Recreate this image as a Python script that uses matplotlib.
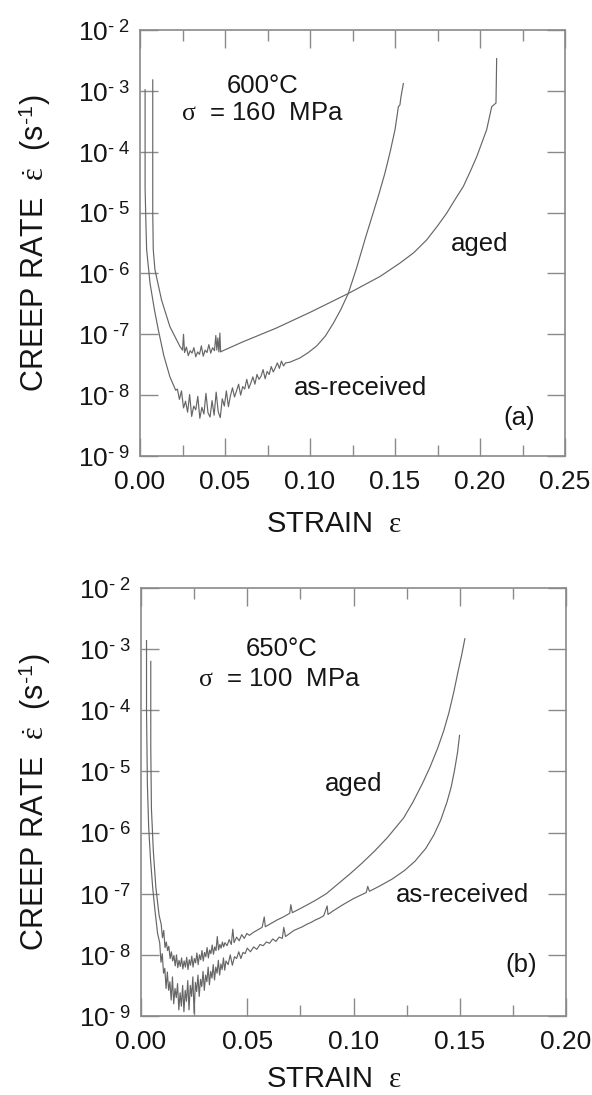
import numpy as np
import matplotlib
matplotlib.use("Agg")
import matplotlib.pyplot as plt
from matplotlib.ticker import MultipleLocator, NullLocator, FuncFormatter, LogLocator

plt.rcParams['font.family'] = ['Liberation Sans', 'DejaVu Sans']
plt.rcParams['mathtext.fontset'] = 'custom'
plt.rcParams['mathtext.rm'] = 'Liberation Sans'
plt.rcParams['mathtext.it'] = 'Liberation Serif'
plt.rcParams['mathtext.bf'] = 'Liberation Sans:bold'

# each curve: (strain, log10 creep rate)

# ---------------- panel (a): 600 C, 160 MPa ----------------
ar_a = [(0.0030, -2.98), (0.0030, -4.60), (0.0035, -5.20), (0.0039, -5.61), (0.0059, -6.16),
        (0.0085, -6.60), (0.0108, -6.93), (0.0140, -7.35), (0.0176, -7.70), (0.0210, -7.92),
        (0.0220, -7.90), (0.0232, -8.07), (0.0244, -7.93), (0.0256, -8.21), (0.0268, -8.10),
        (0.0280, -8.28), (0.0292, -7.99), (0.0304, -8.35), (0.0316, -8.18), (0.0328, -8.24),
        (0.0340, -8.02), (0.0352, -8.38), (0.0364, -8.20), (0.0376, -8.31), (0.0388, -7.97),
        (0.0400, -8.29), (0.0412, -8.36), (0.0424, -8.09), (0.0436, -8.33), (0.0448, -7.95),
        (0.0460, -8.27), (0.0472, -8.37), (0.0484, -8.06), (0.0496, -8.18), (0.0508, -7.93),
        (0.0520, -8.19), (0.0532, -8.01), (0.0544, -7.88), (0.0556, -8.03), (0.0568, -7.93),
        (0.0580, -7.82), (0.0592, -8.00), (0.0604, -7.86), (0.0616, -7.90), (0.0628, -7.74),
        (0.0640, -7.89), (0.0652, -7.80), (0.0664, -7.70), (0.0676, -7.82), (0.0688, -7.66),
        (0.0700, -7.74), (0.0712, -7.69), (0.0724, -7.58), (0.0736, -7.73), (0.0748, -7.61),
        (0.0760, -7.66), (0.0772, -7.53), (0.0784, -7.62), (0.0796, -7.55), (0.0808, -7.47),
        (0.0820, -7.56), (0.0832, -7.44), (0.0844, -7.52), (0.0856, -7.47),
        (0.0880, -7.46), (0.0940, -7.39), (0.0990, -7.30), (0.1040, -7.19), (0.1090, -7.03),
        (0.1137, -6.82), (0.1180, -6.60), (0.1225, -6.33), (0.1273, -5.92), (0.1330, -5.38),
        (0.1370, -5.02), (0.1405, -4.70), (0.1440, -4.36), (0.1470, -4.02), (0.1500, -3.64),
        (0.1520, -3.26), (0.1529, -3.23), (0.1535, -3.10), (0.1549, -2.88)]

ag_a = [(0.0075, -2.82), (0.0075, -5.00), (0.0078, -5.61), (0.0088, -5.94), (0.0127, -6.44),
        (0.0176, -6.875), (0.0235, -7.20),
        (0.0250, -7.26), (0.0256, -7.00), (0.0262, -7.30), (0.0273, -7.21), (0.0284, -7.35),
        (0.0295, -7.27), (0.0306, -7.31), (0.0317, -7.22), (0.0328, -7.37), (0.0339, -7.29),
        (0.0350, -7.33), (0.0361, -7.19), (0.0372, -7.36), (0.0383, -7.26), (0.0394, -7.30),
        (0.0405, -7.17), (0.0416, -7.31), (0.0427, -7.22), (0.0438, -7.27), (0.0446, -7.02),
        (0.0452, -7.26), (0.0458, -7.06), (0.0464, -7.29), (0.0470, -6.98), (0.0474, -7.29),
        (0.0480, -7.28), (0.0600, -7.13), (0.0800, -6.90), (0.1000, -6.64), (0.1225, -6.33),
        (0.1412, -6.05), (0.1529, -5.83), (0.1610, -5.66), (0.1686, -5.45), (0.1750, -5.22),
        (0.1804, -5.01), (0.1850, -4.80), (0.1902, -4.57), (0.1945, -4.31), (0.1981, -4.08),
        (0.2039, -3.64), (0.2069, -3.26), (0.2094, -3.20), (0.2098, -2.47)]

# ---------------- panel (b): 650 C, 100 MPa ----------------
ar_b = [(0.0026, -2.86), (0.0026, -4.00), (0.0030, -5.20), (0.0036, -5.90), (0.0045, -6.45),
        (0.0055, -6.90), (0.0065, -7.25), (0.0078, -7.65),
        (0.0088, -7.80), (0.0094, -8.12), (0.0100, -7.98), (0.0106, -8.30), (0.0112, -8.22),
        (0.0118, -8.55), (0.0124, -8.28), (0.0130, -8.58), (0.0136, -8.44), (0.0142, -8.74),
        (0.0148, -8.36), (0.0154, -8.80), (0.0160, -8.55), (0.0166, -8.70), (0.0172, -8.47),
        (0.0178, -8.90), (0.0184, -8.62), (0.0190, -8.84), (0.0196, -8.50), (0.0202, -8.93),
        (0.0208, -8.58), (0.0214, -8.76), (0.0220, -8.42), (0.0226, -8.90), (0.0232, -8.50),
        (0.0238, -8.68), (0.0244, -8.36), (0.0250, -8.95), (0.0256, -8.45), (0.0262, -8.60),
        (0.0268, -8.33), (0.0274, -8.68), (0.0280, -8.40), (0.0286, -8.52), (0.0292, -8.27),
        (0.0298, -8.58), (0.0304, -8.33), (0.0310, -8.44), (0.0316, -8.20), (0.0322, -8.49),
        (0.0328, -8.27), (0.0334, -8.38), (0.0340, -8.16), (0.0346, -8.41), (0.0352, -8.20),
        (0.0358, -8.30), (0.0364, -8.09), (0.0370, -8.33), (0.0376, -8.15), (0.0382, -8.24),
        (0.0388, -8.05), (0.0394, -8.25), (0.0400, -8.10), (0.0410, -8.16), (0.0420, -8.00),
        (0.0430, -8.17), (0.0440, -8.03), (0.0450, -8.06), (0.0460, -7.95), (0.0470, -8.06),
        (0.0480, -7.96), (0.0490, -7.98), (0.0500, -7.89), (0.0515, -7.95), (0.0530, -7.87),
        (0.0545, -7.91), (0.0560, -7.83), (0.0575, -7.85), (0.0590, -7.79), (0.0605, -7.81),
        (0.0620, -7.74), (0.0635, -7.78), (0.0650, -7.71), (0.0665, -7.73), (0.0672, -7.55),
        (0.0680, -7.70), (0.0700, -7.65), (0.0720, -7.60), (0.0740, -7.57), (0.0760, -7.54),
        (0.0780, -7.50), (0.0800, -7.47), (0.0820, -7.43), (0.0840, -7.40), (0.0860, -7.36),
        (0.0876, -7.20), (0.0880, -7.34), (0.0900, -7.29), (0.0950, -7.18), (0.1000, -7.08),
        (0.1060, -6.98), (0.1067, -6.88), (0.1075, -6.96), (0.1120, -6.88), (0.1182, -6.76),
        (0.1240, -6.62), (0.1289, -6.47), (0.1340, -6.26), (0.1378, -6.04), (0.1410, -5.80),
        (0.1440, -5.50), (0.1460, -5.25), (0.1476, -4.97), (0.1490, -4.68), (0.1499, -4.41)]

ag_b = [(0.0046, -3.20), (0.0046, -4.60), (0.0049, -5.60), (0.0058, -6.30), (0.0070, -6.90),
        (0.0085, -7.35),
        (0.0095, -7.50), (0.0101, -7.72), (0.0107, -7.60), (0.0113, -7.88), (0.0119, -7.79),
        (0.0125, -7.93), (0.0131, -7.86), (0.0137, -8.06), (0.0143, -7.95), (0.0149, -8.10),
        (0.0155, -8.01), (0.0161, -8.18), (0.0167, -8.00), (0.0173, -8.21), (0.0179, -8.09),
        (0.0185, -8.19), (0.0191, -8.05), (0.0197, -8.23), (0.0203, -8.10), (0.0209, -8.20),
        (0.0215, -8.04), (0.0221, -8.24), (0.0227, -8.08), (0.0233, -8.17), (0.0239, -8.02),
        (0.0245, -8.20), (0.0251, -8.06), (0.0257, -8.13), (0.0263, -7.97), (0.0269, -8.16),
        (0.0275, -8.00), (0.0281, -8.08), (0.0287, -7.93), (0.0293, -8.10), (0.0299, -7.96),
        (0.0305, -8.03), (0.0311, -7.88), (0.0317, -8.05), (0.0323, -7.92), (0.0329, -7.98),
        (0.0335, -7.84), (0.0341, -7.99), (0.0347, -7.87), (0.0353, -7.93), (0.0359, -7.70),
        (0.0365, -7.92), (0.0371, -7.83), (0.0377, -7.89), (0.0383, -7.79), (0.0389, -7.87),
        (0.0395, -7.80), (0.0405, -7.85), (0.0415, -7.75), (0.0425, -7.83), (0.0432, -7.58),
        (0.0438, -7.80), (0.0450, -7.71), (0.0462, -7.77), (0.0474, -7.67), (0.0486, -7.73),
        (0.0498, -7.65), (0.0510, -7.68), (0.0530, -7.63), (0.0550, -7.59), (0.0570, -7.55),
        (0.0580, -7.38), (0.0585, -7.54), (0.0610, -7.49), (0.0640, -7.43), (0.0670, -7.38),
        (0.0700, -7.32), (0.0705, -7.18), (0.0712, -7.31), (0.0740, -7.26), (0.0778, -7.19),
        (0.0820, -7.11), (0.0872, -7.00), (0.0920, -6.86), (0.0982, -6.68), (0.1040, -6.50),
        (0.1100, -6.30), (0.1160, -6.08), (0.1236, -5.76), (0.1280, -5.50), (0.1324, -5.20),
        (0.1360, -4.93), (0.1396, -4.62), (0.1425, -4.33), (0.1449, -4.04), (0.1472, -3.70),
        (0.1493, -3.35), (0.1510, -3.08), (0.1524, -2.83)]

line_col = '#666666'
spine_col = '#8a8a8a'
txt_col = '#151515'


def ylab(v, pos):
    e = int(round(np.log10(v)))
    if e == -7:
        return r'10$^{\text{ -7}}$'
    return r'10$^{\text{- %d}}$' % (-e)


def draw_curve(ax, pts):
    arr = np.array(pts)
    ax.plot(arr[:, 0], 10 ** arr[:, 1], color=line_col, lw=0.85)


def style_axes(ax, xmax):
    ax.set_yscale('log')
    ax.set_xlim(0, xmax)
    ax.set_ylim(1e-9, 1e-2)
    ax.yaxis.set_major_locator(LogLocator(base=10, numticks=20))
    ax.yaxis.set_minor_locator(NullLocator())
    ax.yaxis.set_major_formatter(FuncFormatter(ylab))
    ax.xaxis.set_major_locator(MultipleLocator(0.05))
    ax.xaxis.set_minor_locator(MultipleLocator(0.025))
    ax.xaxis.set_major_formatter(FuncFormatter(lambda v, p: '%.2f' % v))
    for s in ax.spines.values():
        s.set_color(spine_col)
        s.set_linewidth(1.2)
    ax.tick_params(which='both', direction='in', top=True, right=True,
                   color=spine_col, width=1.0, labelcolor=txt_col)
    ax.tick_params(axis='y', which='major', length=13, labelsize=19, pad=7)
    ax.tick_params(axis='x', which='major', length=13, labelsize=19, pad=10)
    ax.tick_params(axis='x', which='minor', length=8)


fig = plt.figure(figsize=(5.92, 10.95), dpi=100)
ax_a = fig.add_axes([140 / 592, 1 - 456 / 1095, 425 / 592, 426 / 1095])
ax_b = fig.add_axes([141 / 592, 1 - 1016 / 1095, 425 / 592, 428 / 1095])

draw_curve(ax_a, ar_a)
draw_curve(ax_a, ag_a)
draw_curve(ax_b, ar_b)
draw_curve(ax_b, ag_b)

style_axes(ax_a, 0.25)
style_axes(ax_b, 0.20)

fs = 18.5
ax_a.text(0.0722, 10 ** -2.92, '600°C', ha='center', va='center', fontsize=fs, color=txt_col)
ax_a.text(0.0718, 10 ** -3.37, r'$\sigma$  = 160  MPa', ha='center', va='center', fontsize=fs, color=txt_col)
ax_a.text(0.1996, 10 ** -5.52, 'aged', ha='center', va='center', fontsize=fs, color=txt_col)
ax_a.text(0.1296, 10 ** -7.89, 'as-received', ha='center', va='center', fontsize=fs, color=txt_col)
ax_a.text(0.2233, 10 ** -8.38, '(a)', ha='center', va='center', fontsize=fs, color=txt_col)

ax_b.text(0.0662, 10 ** -3.00, '650°C', ha='center', va='center', fontsize=fs, color=txt_col)
ax_b.text(0.0653, 10 ** -3.49, r'$\sigma$  = 100  MPa', ha='center', va='center', fontsize=fs, color=txt_col)
ax_b.text(0.0999, 10 ** -5.20, 'aged', ha='center', va='center', fontsize=fs, color=txt_col)
ax_b.text(0.1513, 10 ** -7.02, 'as-received', ha='center', va='center', fontsize=fs, color=txt_col)
ax_b.text(0.1787, 10 ** -8.17, '(b)', ha='center', va='center', fontsize=fs, color=txt_col)

ylabel = r'CREEP RATE  $\dot{\varepsilon}$  (s$^{\text{-1}}$)'
for top, bot in [(30, 456), (588, 1016)]:
    fig.text(34.5 / 592, 1 - (top + bot) / 2 / 1095, ylabel, rotation=90,
             ha='center', va='center', fontsize=22, color=txt_col)
for base in [532, 1087]:
    fig.text(334 / 592, 1 - base / 1095, r'STRAIN  $\varepsilon$', ha='center',
             va='baseline', fontsize=21, color=txt_col)

fig.savefig('out.png', dpi=100, facecolor='white')
